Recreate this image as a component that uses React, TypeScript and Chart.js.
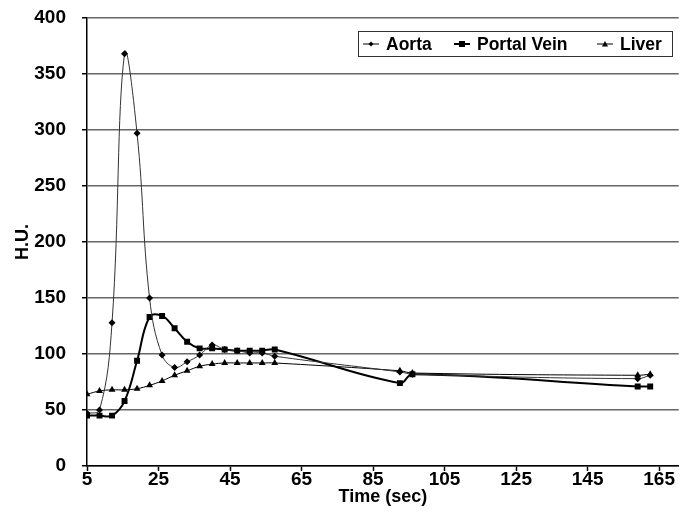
import React, { useEffect, useRef } from 'react';
import { Chart, registerables } from 'chart.js';

Chart.register(...registerables);

const TIMES = [5, 8.5, 12, 15.5, 19, 22.5, 26, 29.5, 33, 36.5, 40, 43.5, 47, 50.5, 54, 57.5, 92.5, 96, 159, 162.5];
const AORTA = [47, 50, 128, 368, 297, 150, 99, 88, 93, 99, 108, 104, 103, 101, 101, 98, 84, 82, 78, 81];
const PORTAL = [45, 45, 45, 58, 94, 133, 134, 123, 111, 105, 105, 104, 103, 103, 103, 104, 74, 82, 71, 71];
const LIVER = [64, 67, 68, 68, 69, 72, 76, 81, 85, 89, 91, 92, 92, 92, 92, 92, 85, 83, 81, 82];
const X_TICKS = [5, 25, 45, 65, 85, 105, 125, 145, 165];
const SERIES_NAMES = ['Aorta', 'Portal Vein', 'Liver'];
const X_TITLE = 'Time (sec)';
const Y_TITLE = 'H.U.';

const FONT = '"Liberation Sans", Arial, sans-serif';

function drawMarker(ctx: CanvasRenderingContext2D, style: string, x: number, y: number, r: number) {
  ctx.beginPath();
  if (style === 'rectRot') {
    ctx.moveTo(x - r, y);
    ctx.lineTo(x, y - r);
    ctx.lineTo(x + r, y);
    ctx.lineTo(x, y + r);
    ctx.closePath();
  } else if (style === 'rect') {
    ctx.rect(x - r, y - r, 2 * r, 2 * r);
  } else {
    ctx.moveTo(x, y - r);
    ctx.lineTo(x + r, y + r * 0.8);
    ctx.lineTo(x - r, y + r * 0.8);
    ctx.closePath();
  }
  ctx.fill();
}

const legendBox = {
  id: 'legendBox',
  afterDraw(chart: any) {
    const ctx: CanvasRenderingContext2D = chart.ctx;
    ctx.save();
    const bx = 358, by = 31, bw = 314, bh = 25;
    ctx.fillStyle = '#fff';
    ctx.fillRect(bx, by, bw, bh);
    ctx.strokeStyle = '#333';
    ctx.lineWidth = 1;
    ctx.strokeRect(bx + 0.5, by + 0.5, bw, bh);
    const starts = [363, 454, 597];
    const styles = ['rectRot', 'rect', 'triangle'];
    const widths = [1, 2, 1];
    const cy = by + bh / 2 + 0.5;
    ctx.font = `bold 17.5px ${FONT}`;
    ctx.textBaseline = 'middle';
    SERIES_NAMES.forEach((name, i) => {
      const x = starts[i];
      ctx.strokeStyle = '#000';
      ctx.lineWidth = widths[i];
      ctx.beginPath();
      ctx.moveTo(x, cy);
      ctx.lineTo(x + 16, cy);
      ctx.stroke();
      ctx.fillStyle = '#000';
      drawMarker(ctx, styles[i], x + 8, cy, i === 0 ? 2.5 : 3);
      ctx.fillText(name, x + 23, cy + 1);
    });
    ctx.restore();
  },
};

export default function App() {
  const ref = useRef<HTMLCanvasElement>(null);
  useEffect(() => {
    if (!ref.current) return;
    const mk = (vals: number[]) => TIMES.map((t, i) => ({ x: t, y: vals[i] }));
    const tickFont = { family: FONT, size: 19, weight: 'bold' as const };
    const titleFont = { family: FONT, size: 18, weight: 'bold' as const };
    const chart = new Chart(ref.current, {
      type: 'line',
      data: {
        datasets: [
          {
            label: SERIES_NAMES[0],
            data: mk(AORTA),
            borderColor: '#333',
            borderWidth: 1,
            pointStyle: 'rectRot',
            pointRadius: 3.5,
            pointBackgroundColor: '#000',
            pointBorderColor: '#000',
            pointBorderWidth: 0,
            tension: 0.4,
            fill: false,
          },
          {
            label: SERIES_NAMES[1],
            data: mk(PORTAL),
            borderColor: '#000',
            borderWidth: 2,
            pointStyle: 'rect',
            pointRadius: 4.2,
            pointBackgroundColor: '#000',
            pointBorderColor: '#000',
            pointBorderWidth: 0,
            tension: 0.4,
            fill: false,
          },
          {
            label: SERIES_NAMES[2],
            data: mk(LIVER),
            borderColor: '#000',
            borderWidth: 1,
            pointStyle: 'triangle',
            pointRadius: 4,
            pointBackgroundColor: '#000',
            pointBorderColor: '#000',
            pointBorderWidth: 0,
            tension: 0.4,
            fill: false,
          },
        ],
      },
      options: {
        responsive: false,
        animation: false,
        layout: { padding: { left: 0, top: 18, right: 3, bottom: 0 } },
        plugins: { legend: { display: false }, tooltip: { enabled: false } },
        scales: {
          x: {
            type: 'linear',
            min: 5,
            max: 170.5,
            afterBuildTicks: (s: any) => {
              s.ticks = X_TICKS.map((v) => ({ value: v }));
            },
            afterFit: (s: any) => {
              s.height = 50;
            },
            grid: { drawOnChartArea: false, drawTicks: true, tickLength: 5, tickColor: '#000', tickWidth: 1.5 },
            border: { display: true, color: '#000', width: 1.5 },
            ticks: { font: tickFont, color: '#000', padding: -3, maxRotation: 0, autoSkip: false },
            title: {
              display: true,
              text: X_TITLE,
              font: titleFont,
              color: '#000',
              padding: { top: 8, bottom: 8 },
            },
          },
          y: {
            min: 0,
            max: 400,
            ticks: { stepSize: 50, font: tickFont, color: '#000', padding: 16 },
            afterFit: (s: any) => {
              s.width = 87;
              s.paddingTop = 0;
              s.paddingBottom = 0;
            },
            grid: { color: '#666', lineWidth: 1.5, tickLength: 5, tickColor: '#000', tickWidth: 1.5 },
            border: { display: true, color: '#000', width: 1.5 },
            title: {
              display: true,
              text: Y_TITLE,
              font: titleFont,
              color: '#000',
              padding: { top: 12, bottom: 12 },
            },
          },
        },
      },
      plugins: [legendBox],
    });
    return () => chart.destroy();
  }, []);
  return (
    <div style={{ position: 'fixed', left: 0, top: 0, width: 683, height: 516, background: '#fff' }}>
      <canvas ref={ref} width={683} height={516} style={{ display: 'block' }} />
    </div>
  );
}
